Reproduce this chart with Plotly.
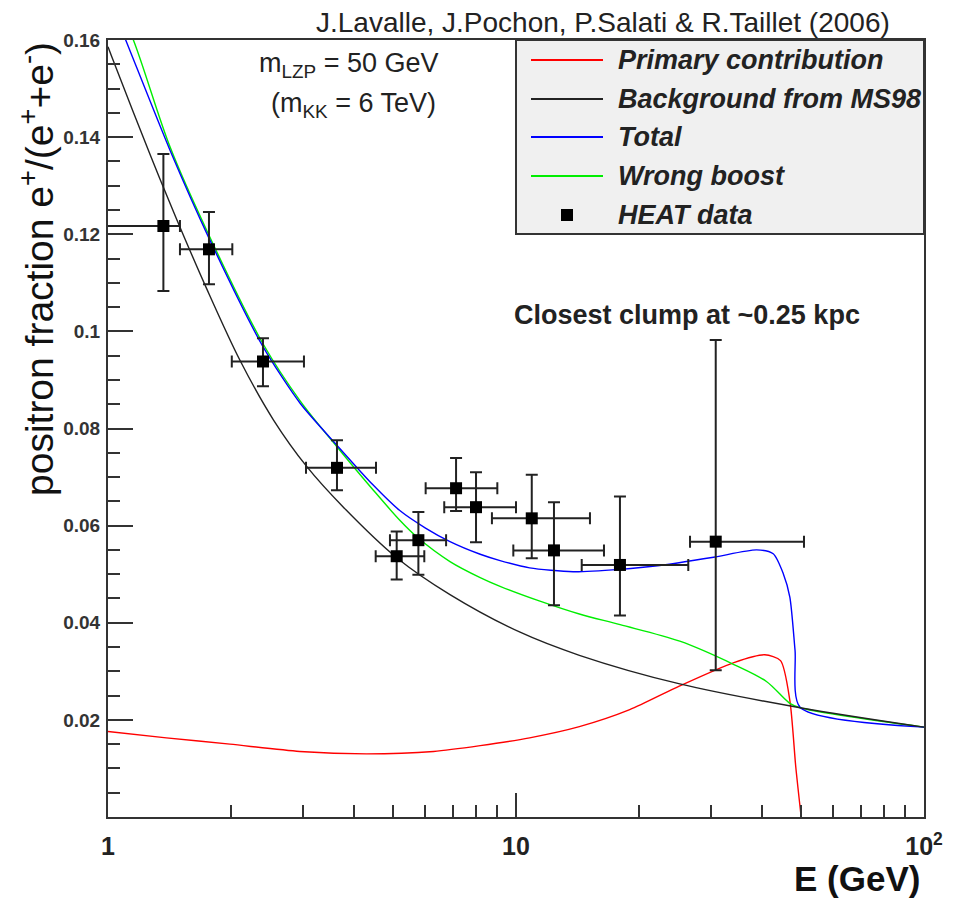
import plotly.graph_objects as go

# ---------------- data ----------------
bkg_E = [1.0, 1.021, 1.268, 1.473, 1.745, 2.107, 2.543, 3.068, 3.775, 5.1, 6.89, 10.2, 14.3, 25.2, 49.7, 100.0]
bkg_y = [0.1586, 0.1566, 0.1364, 0.1231, 0.1088, 0.0940, 0.0818, 0.0722, 0.0638, 0.0534, 0.0458, 0.0381, 0.0333, 0.0274, 0.0225, 0.0185]

tot_E = [1.0, 1.105, 1.419, 1.768, 2.4, 2.957, 3.636, 4.46, 5.19, 6.0, 6.89, 8.17, 9.14, 10.8, 13.8, 18.0, 22.5, 30.5, 38.9, 42.7, 45.2, 46.9, 48.3, 49.7, 100.0]
tot_y = [0.169, 0.160, 0.1373, 0.1192, 0.0968, 0.0852, 0.0766, 0.0684, 0.0631, 0.0595, 0.0567, 0.0541, 0.0528, 0.0513, 0.0505, 0.0510, 0.0518, 0.0535, 0.0550, 0.0542, 0.0501, 0.0453, 0.0343, 0.0226, 0.0185]

wrong_E = [1.0, 1.154, 1.419, 1.768, 2.4, 2.957, 3.636, 4.46, 5.19, 5.71, 6.89, 8.17, 9.14, 11.4, 14.3, 18.0, 25.2, 34.2, 41.1, 46.9, 49.7, 100.0]
wrong_y = [0.172, 0.160, 0.1380, 0.1198, 0.0974, 0.0857, 0.0763, 0.0674, 0.0611, 0.0577, 0.0526, 0.0493, 0.0475, 0.0445, 0.0418, 0.0396, 0.0362, 0.0314, 0.0279, 0.0234, 0.0225, 0.0185]

prim_E = [1.0, 1.39, 1.99, 2.95, 4.30, 6.28, 8.17, 10.8, 14.3, 19.0, 25.2, 34.2, 40.7, 44.5, 46.9, 48.5, 50.0]
prim_y = [0.0176, 0.0163, 0.0150, 0.0135, 0.0130, 0.0135, 0.0147, 0.0163, 0.0186, 0.0221, 0.0270, 0.0318, 0.0334, 0.0322, 0.0240, 0.0103, 0.0]

heat_E = [1.367, 1.768, 2.398, 3.641, 5.10, 5.764, 7.13, 7.98, 10.93, 12.39, 17.98, 30.87]
heat_y = [0.1217, 0.1169, 0.0938, 0.0719, 0.0537, 0.0570, 0.0677, 0.0638, 0.0615, 0.0549, 0.0519, 0.0567]
heat_Elo = [0.95, 1.501, 2.011, 3.057, 4.53, 4.91, 6.006, 6.67, 8.73, 9.85, 14.49, 26.7]
heat_Ehi = [1.501, 2.017, 3.022, 4.538, 5.96, 6.74, 9.0, 10.0, 15.18, 16.43, 26.44, 50.8]
heat_ylo = [0.1083, 0.1097, 0.0887, 0.0673, 0.0489, 0.0499, 0.0630, 0.0566, 0.0533, 0.0436, 0.0415, 0.0302]
heat_yhi = [0.1365, 0.1246, 0.0986, 0.0776, 0.0588, 0.0628, 0.0739, 0.0710, 0.0705, 0.0648, 0.0660, 0.0982]

y_ticks = [0.02, 0.04, 0.06, 0.08, 0.10, 0.12, 0.14, 0.16]
y_ticktext = ["0.02", "0.04", "0.06", "0.08", "0.1", "0.12", "0.14", "0.16"]
y_minor = [0.005, 0.01, 0.015, 0.025, 0.03, 0.035, 0.045, 0.05, 0.055, 0.065, 0.07, 0.075,
           0.085, 0.09, 0.095, 0.105, 0.11, 0.115, 0.125, 0.13, 0.135, 0.145, 0.15, 0.155]
x_ticks = [1, 10, 100]
x_ticktext = ["1", "10", "10<sup>2</sup>"]
x_minor = [2, 3, 4, 5, 6, 7, 8, 9, 20, 30, 40, 50, 60, 70, 80, 90]

legend_names = ["Primary contribution", "Background from MS98", "Total", "Wrong boost", "HEAT data"]
legend_colors = ["#ff0000", "#222222", "#0000ff", "#00ee00", None]

# ---------------- figure ----------------
W, H = 956, 899
L, R, T, B = 108, 32, 40, 82
pw, ph = W - L - R, H - T - B

def px(xp):
    return (xp - L) / pw

def py(yp):
    return (H - B - yp) / ph

fig = go.Figure()
lw = 1.4
sm = 0.9
fig.add_trace(go.Scatter(x=prim_E, y=prim_y, mode="lines", line=dict(color="#ff0000", width=lw, shape="spline", smoothing=0.7), showlegend=False))
fig.add_trace(go.Scatter(x=wrong_E, y=wrong_y, mode="lines", line=dict(color="#00ee00", width=lw, shape="spline", smoothing=sm), showlegend=False))
fig.add_trace(go.Scatter(x=tot_E, y=tot_y, mode="lines", line=dict(color="#0000ff", width=lw, shape="spline", smoothing=0.7), showlegend=False))
fig.add_trace(go.Scatter(x=bkg_E, y=bkg_y, mode="lines", line=dict(color="#222222", width=lw, shape="spline", smoothing=sm), showlegend=False))

fig.add_trace(go.Scatter(
    x=heat_E, y=heat_y, mode="markers",
    marker=dict(symbol="square", size=12, color="black", line=dict(width=0)),
    error_x=dict(type="data", symmetric=False,
                 array=[h - e for h, e in zip(heat_Ehi, heat_E)],
                 arrayminus=[e - l for e, l in zip(heat_E, heat_Elo)],
                 color="#222222", thickness=2, width=6),
    error_y=dict(type="data", symmetric=False,
                 array=[h - v for h, v in zip(heat_yhi, heat_y)],
                 arrayminus=[v - l for v, l in zip(heat_y, heat_ylo)],
                 color="#222222", thickness=2, width=6),
    showlegend=False))

axis_col = "#333333"
fig.update_xaxes(type="log", range=[0, 2], showline=True, linecolor=axis_col, linewidth=2, mirror=True,
                 ticks="inside", ticklen=24, tickwidth=2, tickcolor=axis_col,
                 tickvals=x_ticks, ticktext=x_ticktext,
                 tickfont=dict(family="Liberation Sans, Arial", size=25, color="#222", weight="bold"),
                 ticklabelstandoff=6,
                 minor=dict(tickvals=x_minor, ticks="inside", ticklen=12, tickwidth=2, tickcolor=axis_col),
                 showgrid=False, zeroline=False)
fig.update_yaxes(range=[0, 0.16], showline=True, linecolor=axis_col, linewidth=2, mirror=True,
                 ticks="inside", ticklen=25, tickwidth=2, tickcolor=axis_col,
                 tickvals=y_ticks, ticktext=y_ticktext,
                 tickfont=dict(family="Liberation Sans, Arial", size=19, color="#333", weight="bold"),
                 ticklabelstandoff=2,
                 minor=dict(tickvals=y_minor, ticks="inside", ticklen=12, tickwidth=2, tickcolor=axis_col),
                 showgrid=False, zeroline=False)

shapes = []
annos = []
# legend box
shapes.append(dict(type="rect", xref="paper", yref="paper", x0=px(516), x1=px(924), y0=py(234), y1=py(40),
                   fillcolor="#f0f0f0", line=dict(color=axis_col, width=2), layer="above"))
row_y = [60, 99, 137, 176, 215]
for name, col, ry in zip(legend_names, legend_colors, row_y):
    if col is not None:
        shapes.append(dict(type="line", xref="paper", yref="paper", x0=px(531), x1=px(603), y0=py(ry), y1=py(ry),
                           line=dict(color=col, width=2), layer="above"))
    else:
        shapes.append(dict(type="rect", xref="paper", yref="paper", x0=px(561), x1=px(573), y0=py(ry + 6), y1=py(ry - 6),
                           fillcolor="black", line=dict(width=0), layer="above"))
    annos.append(dict(xref="paper", yref="paper", x=px(616), y=py(ry), xanchor="left", yanchor="middle",
                      text=name, showarrow=False,
                      font=dict(family="Liberation Sans, Arial", size=27, color="#222", weight="bold", style="italic")))

font_reg = "Liberation Sans, Arial"
annos.append(dict(xref="paper", yref="paper", x=px(892), y=py(23), xanchor="right", yanchor="middle",
                  text="J.Lavalle, J.Pochon, P.Salati & R.Taillet (2006)", showarrow=False,
                  font=dict(family=font_reg, size=28, color="#222")))
annos.append(dict(xref="paper", yref="paper", x=px(349), y=py(65), xanchor="center", yanchor="middle",
                  text="m<sub>LZP</sub> = 50 GeV", showarrow=False,
                  font=dict(family=font_reg, size=27, color="#222")))
annos.append(dict(xref="paper", yref="paper", x=px(353), y=py(105), xanchor="center", yanchor="middle",
                  text="(m<sub>KK</sub> = 6 TeV)", showarrow=False,
                  font=dict(family=font_reg, size=27, color="#222")))
annos.append(dict(xref="paper", yref="paper", x=px(687), y=py(315), xanchor="center", yanchor="middle",
                  text="Closest clump at ~0.25 kpc", showarrow=False,
                  font=dict(family=font_reg, size=27, color="#222", weight="bold")))
annos.append(dict(xref="paper", yref="paper", x=px(922), y=py(879), xanchor="right", yanchor="middle",
                  text="E (GeV)", showarrow=False,
                  font=dict(family=font_reg, size=35, color="#111", weight="bold")))
annos.append(dict(xref="paper", yref="paper", x=px(36), y=py(40), xanchor="center", yanchor="top",
                  text="positron fraction e<sup>+</sup>/(e<sup>+</sup>+e<sup>-</sup>)", showarrow=False, textangle=-90,
                  font=dict(family=font_reg, size=39, color="#111")))

fig.update_layout(width=W, height=H, margin=dict(l=L, r=R, t=T, b=B, autoexpand=False),
                  paper_bgcolor="white", plot_bgcolor="white",
                  shapes=shapes, annotations=annos, showlegend=False)

fig.write_html("out.html")
